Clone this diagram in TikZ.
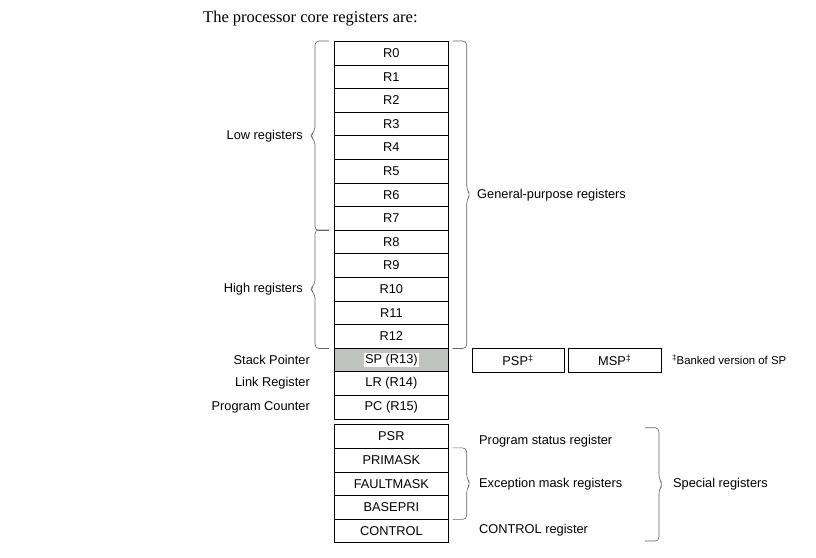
\documentclass[tikz,border=0pt]{standalone}
\usepackage{fontspec}
\usetikzlibrary{calc}
\newfontfamily\armsans{Liberation Sans}
\newfontfamily\armserif{Liberation Serif}
\newcommand{\regfont}{\armsans\fontsize{12.8}{15}\selectfont}
\definecolor{spgray}{RGB}{192,196,192}
\definecolor{bracegray}{RGB}{100,100,100}
\tikzset{
  reg/.style={draw, line width=0.7pt, minimum width=114pt, minimum height=23.6pt,
    inner sep=0pt, anchor=north west, font=\regfont},
  lbl/.style={inner sep=0pt, font=\regfont},
  rbrace/.style={draw=bracegray, line width=0.6pt, rounded corners=4pt,
    to path={let \p1=(\tikztostart), \p2=(\tikztotarget), \n1={0.5*\y1+0.5*\y2} in
      -- (\x1+14pt,\y1) -- (\x1+14pt,\n1+5pt) -- (\x1+18pt,\n1)
      -- (\x1+14pt,\n1-5pt) -- (\x1+14pt,\y2) -- (\p2)}},
  lbrace/.style={draw=bracegray, line width=0.6pt, rounded corners=4pt,
    to path={let \p1=(\tikztostart), \p2=(\tikztotarget), \n1={0.5*\y1+0.5*\y2} in
      -- (\x1-14pt,\y1) -- (\x1-14pt,\n1+5pt) -- (\x1-19pt,\n1)
      -- (\x1-14pt,\n1-5pt) -- (\x1-14pt,\y2) -- (\p2)}}
}
\begin{document}
\begin{tikzpicture}[x=1pt,y=-1pt]
    \useasboundingbox (0,0) rectangle (816,557);

    % Titolo
    \node[anchor=west, inner sep=0pt, font=\armserif\fontsize{16.5}{19}\selectfont] (title) at (203,19) {The processor core registers are:};

    % Registri generali
    \foreach \i in {0,...,12} {
        \node[reg] (r\i) at (334,{41+23.6*\i}) {R\i};
    }
    \node[reg, fill=spgray] (sp) at (334,{41+23.6*13}) {};
    \node[fill=white, inner sep=1pt, font=\regfont] (sptext) at (sp) {SP (R13)};
    \node[reg] (lr) at (334,{41+23.6*14}) {LR (R14)};
    \node[reg] (pc) at (334,{41+23.6*15}) {PC (R15)};

    % Registri speciali
    \node[reg] (psr) at (334,424.3) {PSR};
    \node[reg] (primask) at (334,{424.3+23.6}) {PRIMASK};
    \node[reg] (faultmask) at (334,{424.3+23.6*2}) {FAULTMASK};
    \node[reg] (basepri) at (334,{424.3+23.6*3}) {BASEPRI};
    \node[reg] (control) at (334,{424.3+23.6*4}) {CONTROL};

    % Stack pointer banked
    \node[draw, line width=0.7pt, minimum width=92pt, minimum height=24pt, inner sep=0pt, font=\regfont] (psp) at (518,360) {PSP\textsuperscript{‡}};
    \node[draw, line width=0.7pt, minimum width=92.7pt, minimum height=24pt, inner sep=0pt, font=\regfont] (msp) at (614.7,360) {MSP\textsuperscript{‡}};
    \node[lbl, anchor=west, font=\armsans\fontsize{11.4}{14}\selectfont] (banked) at (672,360) {\textsuperscript{‡}\kern-0.5pt Banked version of SP};

    % Etichette a sinistra
    \node[lbl, anchor=east] (low) at (303,136) {Low registers};
    \node[lbl, anchor=east] (high) at (303,289) {High registers};
    \node[lbl, anchor=east] (spname) at (310,360) {Stack Pointer};
    \node[lbl, anchor=east] (lrname) at (310,383) {Link Register};
    \node[lbl, anchor=east] (pcname) at (310,407) {Program Counter};

    % Etichette a destra
    \node[lbl, anchor=west] (gp) at (477,195) {General-purpose registers};
    \node[lbl, anchor=west] (psrname) at (479,441) {Program status register};
    \node[lbl, anchor=west] (excname) at (479,484) {Exception mask registers};
    \node[lbl, anchor=west] (ctrlname) at (479,530) {CONTROL register};
    \node[lbl, anchor=west] (special) at (673,484) {Special registers};

    % Parentesi
    \coordinate (lowtop) at ($(r0.north west)+(-5,0)$);
    \coordinate (lowbot) at ($(r7.south west)+(-5,0)$);
    \coordinate (hightop) at ($(r8.north west)+(-5,0)$);
    \coordinate (highbot) at ($(r12.south west)+(-5,0)$);
    \coordinate (gptop) at ($(r0.north east)+(4,0)$);
    \coordinate (gpbot) at ($(r12.south east)+(4,0)$);
    \coordinate (exctop) at ($(primask.north east)+(4,0)$);
    \coordinate (excbot) at ($(basepri.south east)+(4,0)$);
    \coordinate (spectop) at (645,427.7);
    \coordinate (specbot) at (645,541);
    \draw[lbrace] (lowtop) to (lowbot);
    \draw[lbrace] (hightop) to (highbot);
    \draw[rbrace] (gptop) to (gpbot);
    \draw[rbrace] (exctop) to (excbot);
    \draw[rbrace] (spectop) to (specbot);
\end{tikzpicture}
\end{document}
